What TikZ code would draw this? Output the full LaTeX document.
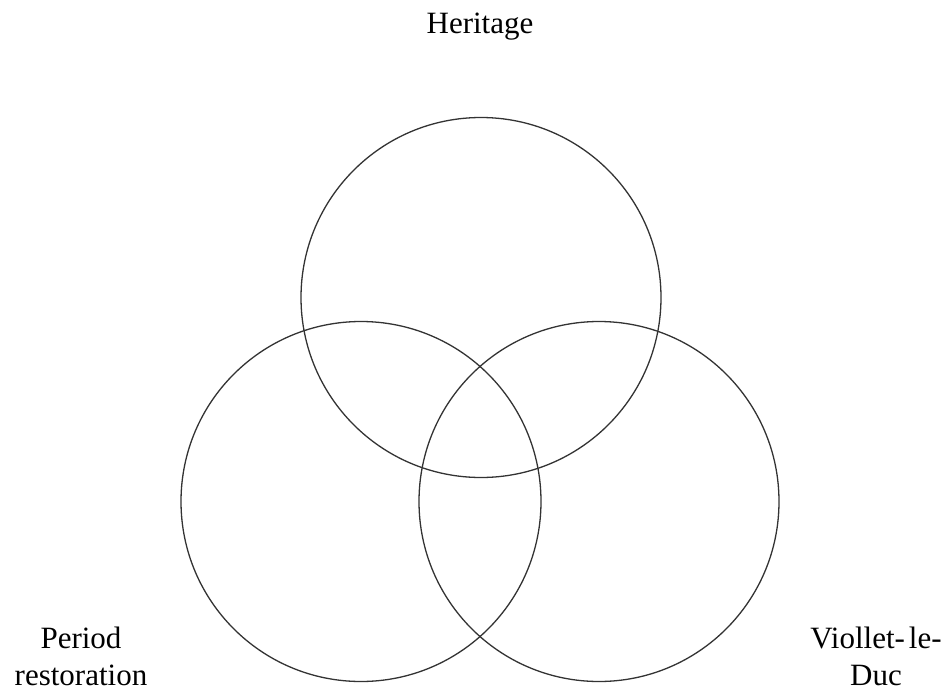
\documentclass[tikz,border=0pt]{standalone}
\usepackage{fontspec}
\setmainfont{Liberation Serif}
\begin{document}
\begin{tikzpicture}[x=1pt,y=-1pt,
  ring/.style={draw=black!80, line width=1.3pt},
  lbl/.style={font=\fontsize{31}{37}\selectfont, align=center, inner sep=0pt, text=black}]
\useasboundingbox (0,0) rectangle (946,694);
\draw[ring] (481,297.5) circle (180);
\draw[ring] (361,501.5) circle (180);
\draw[ring] (599,501.5) circle (180);
\node[lbl, anchor=base] (heritage) at (480,33) {Heritage};
\node[lbl, anchor=base] (period) at (81,685) {Period\\restoration};
\node[lbl, anchor=base] (viollet) at (876,685) {Viollet-\hspace{4pt}le-\\Duc};
\end{tikzpicture}
\end{document}
